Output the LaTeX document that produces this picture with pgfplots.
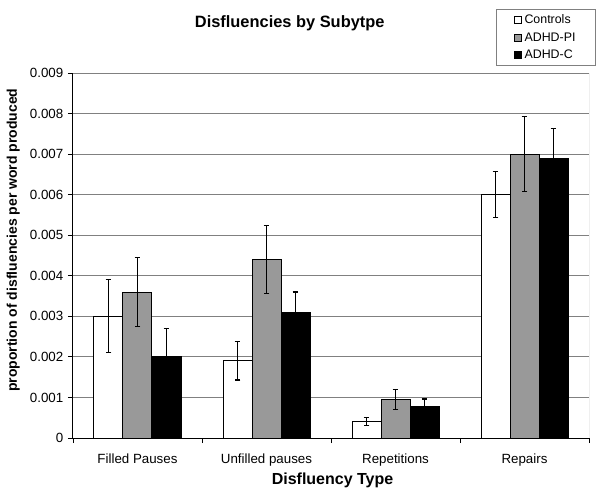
\documentclass[border=0pt]{standalone}
\usepackage{fontspec}
\setmainfont{Liberation Sans}
\usepackage{pgfplots}
\pgfplotsset{compat=1.18}
\definecolor{barGray}{RGB}{153,153,153}
\definecolor{gridGray}{RGB}{128,128,128}
\begin{document}
\begin{tikzpicture}
\begin{axis}[
  scale only axis,
  width=387pt, height=273.75pt,
  xmin=-0.5, xmax=3.5,
  ymin=0, ymax=0.009,
  ybar=0pt, bar width=21.75pt,
  axis x line*=bottom, axis y line*=left,
  axis line style={black, line width=0.75pt},
  tick align=outside,
  xtick={-0.5,0.5,1.5,2.5,3.5},
  xticklabels={},
  major x tick style={black, line width=0.6pt},
  extra x ticks={0,1,2,3},
  extra x tick labels={Filled Pauses,Unfilled pauses,Repetitions,Repairs},
  extra x tick style={major tick length=0pt, grid=none, tick label style={yshift=-8pt}},
  ytick={0,0.001,...,0.009},
  yticklabels={0,0.001,0.002,0.003,0.004,0.005,0.006,0.007,0.008,0.009},
  scaled y ticks=false,
  major tick length=3.75pt,
  ytick style={black, line width=0.6pt},
  ymajorgrids,
  grid style={gridGray, line width=0.75pt},
  tick label style={font=\fontsize{10}{12}\selectfont},
  /pgf/number format/assume math mode=true,
  title={Disfluencies by Subytpe},
  title style={font=\fontsize{12.3}{14}\selectfont\bfseries, at={(axis description cs:0.42,1.115)}, anchor=center, yshift=0pt},
  xlabel={Disfluency Type},
  xlabel style={font=\fontsize{12}{14}\selectfont\bfseries, at={(axis description cs:0.503,-0.115)}, anchor=center},
  ylabel={proportion of disfluencies per word produced},
  ylabel style={font=\fontsize{10.5}{12}\selectfont\bfseries, at={(axis description cs:-0.116,0.542)}, anchor=center},
  legend style={at={(axis description cs:1.0136,1.1753)}, anchor=north east, draw=gridGray, line width=0.75pt, font=\fontsize{9.3}{11}\selectfont, row sep=1pt, inner xsep=13pt, inner ysep=2pt, cells={anchor=west}},
  legend image code/.code={\draw[#1,draw=black,line width=0.6pt] (1pt,-2.6pt) rectangle (6.2pt,2.6pt);},
  error bars/error bar style={black, line width=0.9pt},
  error bars/error mark options={rotate=90, black, mark size=2.2pt, line width=0.9pt},
]
\addplot[fill=white, draw=black, line width=0.75pt,
  error bars/.cd, y dir=both, y explicit]
  coordinates {(0,0.0030) +- (0,0.0009) (1,0.0019) +- (0,0.00047) (2,0.00040) +- (0,0.00010) (3,0.0060) +- (0,0.00057)};
\addplot[fill=barGray, draw=black, line width=0.75pt,
  error bars/.cd, y dir=both, y explicit]
  coordinates {(0,0.0036) +- (0,0.00085) (1,0.0044) +- (0,0.00084) (2,0.00095) +- (0,0.00025) (3,0.0070) +- (0,0.00092)};
\addplot[fill=black, draw=black, line width=0.75pt,
  error bars/.cd, y dir=both, y explicit]
  coordinates {(0,0.0020) +- (0,0.0007) (1,0.0031) +- (0,0.0005) (2,0.00078) +- (0,0.00018) (3,0.00688) +- (0,0.00076)};
\legend{Controls,ADHD-PI,ADHD-C}
\draw[gridGray, line width=0.75pt] (rel axis cs:1,0) -- (rel axis cs:1,1);
\end{axis}
\pgfresetboundingbox
\path (-54.75pt,-43.5pt) rectangle (395.25pt,328.5pt);
\end{tikzpicture}
\end{document}
